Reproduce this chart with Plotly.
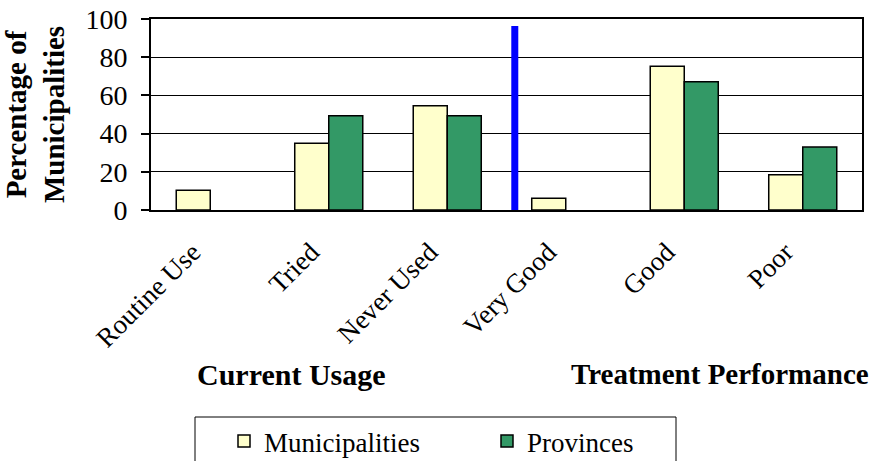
import plotly.graph_objects as go

categories = ["Routine Use", "Tried", "Never Used", "Very Good", "Good", "Poor"]
municipalities = [10.3, 34.9, 54.6, 6.1, 75.2, 18.5]
provinces = [None, 49.4, 49.4, None, 67.2, 33.0]
y_ticks = [0, 20, 40, 60, 80, 100]
group_labels = ["Current Usage", "Treatment Performance"]
separator_x = 2.57
separator_top = 96.3

FONT = "Liberation Serif, Times New Roman, serif"
W, H = 876, 461
# plot area in page pixels: x 151..862, y 19..210
L, T = 151, 19
R, B = W - 862, H - 210
PW, PH = W - L - R, H - T - B


def px(xs):
    return (xs - L) / PW


def py(ys):
    return (H - B - ys) / PH


fig = go.Figure()
fig.add_trace(go.Bar(
    x=categories, y=municipalities, name="Municipalities",
    marker=dict(color="#FFFFCC", line=dict(color="black", width=1.5)),
))
fig.add_trace(go.Bar(
    x=categories, y=provinces, name="Provinces",
    marker=dict(color="#339966", line=dict(color="black", width=1.5)),
))

fig.add_shape(type="line", xref="x", yref="y",
              x0=separator_x, x1=separator_x, y0=0, y1=separator_top,
              line=dict(color="#0000FF", width=7))

# legend frame
fig.add_shape(type="rect", xref="paper", yref="paper",
              x0=px(195), x1=px(676), y0=py(417), y1=py(475),
              line=dict(color="black", width=1), fillcolor="rgba(0,0,0,0)")

fig.add_annotation(text="<b>" + group_labels[0] + "</b>", xref="paper", yref="paper",
                   x=px(291), y=py(374), showarrow=False, xanchor="center", yanchor="middle",
                   font=dict(family=FONT, size=30, color="black"))
fig.add_annotation(text="<b>" + group_labels[1] + "</b>", xref="paper", yref="paper",
                   x=px(720), y=py(374), showarrow=False, xanchor="center", yanchor="middle",
                   font=dict(family=FONT, size=29, color="black"))

fig.update_layout(
    width=W, height=H,
    margin=dict(l=L, r=R, t=T, b=B, autoexpand=False),
    paper_bgcolor="white", plot_bgcolor="white",
    barmode="group", bargap=0.426, bargroupgap=0,
    font=dict(family=FONT, size=24, color="black"),
    showlegend=True,
    legend=dict(
        orientation="h", x=px(224), y=py(417),
        xanchor="left", yanchor="top",
        borderwidth=0, bgcolor="rgba(0,0,0,0)",
        entrywidth=218, entrywidthmode="pixels",
        font=dict(family=FONT, size=27, color="black"),
    ),
    xaxis=dict(
        type="category", tickangle=-45, showline=True, linecolor="black", linewidth=2,
        mirror=True, ticks="", tickfont=dict(family=FONT, size=27, color="black"),
        tickvals=categories, ticktext=[c + "\u00a0\u00a0" for c in categories],
        ticklabelstandoff=4, ticklabelshift=-8, automargin=False,
        ticklabeloverflow="allow",
    ),
    yaxis=dict(
        range=[0, 100], tickvals=y_ticks, showline=True, linecolor="black", linewidth=2,
        mirror=True, ticks="outside", ticklen=8, tickcolor="black", tickwidth=1.5,
        showgrid=True, gridcolor="black", gridwidth=1, zeroline=False,
        tickfont=dict(family=FONT, size=28, color="black"), ticklabelstandoff=8,
        automargin=False, ticklabeloverflow="allow",
        title=dict(text="<b>Percentage of<br>Municipalities</b>",
                   font=dict(family=FONT, size=29, color="black"), standoff=17),
    ),
)

fig.write_html(
    "out.html",
    config={"displayModeBar": False},
    post_script="document.body.style.margin='0';document.body.style.overflow='hidden';",
)
